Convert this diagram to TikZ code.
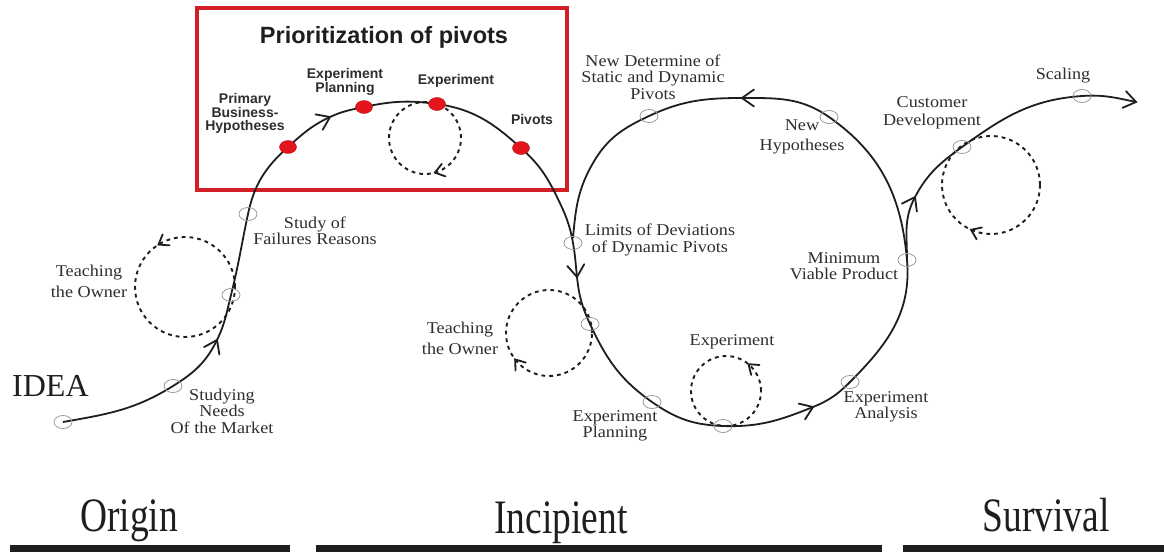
\documentclass[tikz,border=0pt]{standalone}
\usepackage{fontspec}
\usepackage{graphicx}
\setmainfont{Liberation Serif}
\newfontfamily\lab[FakeStretch=1.1]{Liberation Serif}
\newfontfamily\cond[FakeStretch=0.78]{Liberation Serif}
\newfontfamily\boxf{Liberation Sans}
\usetikzlibrary{arrows.meta,calc,shapes.geometric}
\definecolor{boxred}{HTML}{D21F27}
\definecolor{dotred}{HTML}{E3141B}
\definecolor{ink}{HTML}{1E1E1E}
\definecolor{txt}{HTML}{2E2E2E}
\definecolor{ringgray}{HTML}{9A9A9A}
\begin{document}
\begin{tikzpicture}[x=1pt,y=1pt,
  curve/.style={draw=ink,line width=1.8pt},
  loopc/.style={draw=ink,line width=1.9pt,dash pattern=on 3.8pt off 4pt},
  ring/.style={ellipse,draw=ringgray,line width=0.8pt,minimum width=18pt,minimum height=13pt,inner sep=0pt},
  reddot/.style={ellipse,fill=dotred,draw=dotred!80!black,line width=0.4pt,minimum width=17pt,minimum height=13pt,inner sep=0pt},
  lbl/.style={font=\lab\fontsize{16.5}{16.5}\selectfont,align=center,text=txt,inner sep=0pt},
  blbl/.style={font=\boxf\bfseries\fontsize{14}{13}\selectfont,align=center,text=txt,inner sep=0pt},
  stage/.style={font=\cond\fontsize{48}{48}\selectfont,text=ink,inner sep=0pt,anchor=base},
  bar/.style={fill=ink,draw=none},
  bighead/.pic={\draw[ink,line width=1.8pt,line cap=round,line join=miter] (-12,8.5) -- (0,0) -- (-12,-8.5);},
  smallhead/.pic={\draw[ink,line width=1.8pt,line cap=round,line join=miter] (-9,6.5) -- (0,0) -- (-9,-6.5);}
]
\useasboundingbox[fill=white] (0,0) rectangle (1164,-552);

% red box
\node[draw=boxred,line width=3.5pt,minimum width=370pt,minimum height=182pt,inner sep=0pt] (box) at (382,-99) {};
\node[font=\boxf\bfseries\fontsize{23.5}{24}\selectfont,text=ink,inner sep=0pt,anchor=base] (title) at (384,-43) {Prioritization of pivots};

% path points
\coordinate (a0) at (63,-422);
\coordinate (a1) at (173,-386);
\coordinate (a2) at (217,-340);
\coordinate (a3) at (231,-295);
\coordinate (a4) at (248,-214);
\coordinate (a5) at (288,-147);
\coordinate (a6) at (330,-117);
\coordinate (a7) at (364,-107);
\coordinate (a8) at (437,-104);
\coordinate (a9) at (521,-148);
\coordinate (a10) at (557,-197);
\coordinate (a11) at (573,-243);
\coordinate (a12) at (577,-277);
\coordinate (a13) at (590,-324);
\coordinate (a14) at (652,-402);
\coordinate (a15) at (723,-426);
\coordinate (a16) at (813,-407);
\coordinate (a17) at (850,-382);
\coordinate (a18) at (907,-260);
\coordinate (a20) at (829,-117);
\coordinate (a21) at (742,-98);
\coordinate (a22) at (649,-116);
\coordinate (a23) at (593,-163);
\coordinate (a24) at (573,-238);
\coordinate (b1) at (915,-197);
\coordinate (b2) at (962,-147);
\coordinate (b3) at (1082,-96);
\coordinate (b4) at (1136,-102);

% main curve
\draw[curve] (a0) to[out=10,in=212] (a1) to[out=32,in=244] (a2) to[out=64,in=256] (a3)
  to[out=76,in=258] (a4) to[out=78,in=222] (a5) to[out=42,in=205] (a6) to[out=25,in=192] (a7)
  to[out=12,in=172] (a8) to[out=-8,in=138] (a9) to[out=-42,in=116] (a10) to[out=-64,in=100] (a11)
  to[out=-80,in=96] (a12) to[out=-84,in=115] (a13) to[out=-65,in=145] (a14) to[out=-35,in=178] (a15)
  to[out=-2,in=202] (a16) to[out=22,in=225] (a17) to[out=45,in=275] (a18) to[out=95,in=325] (a20)
  to[out=145,in=0] (a21) to[out=180,in=25] (a22) to[out=205,in=60] (a23)
  to[out=240,in=85] (a24);
\draw[curve] (a18) to[out=90,in=242] (b1) to[out=62,in=216] (b2)
  to[out=36,in=184] (b3) to[out=4,in=168] (b4);

% arrow heads on the curve
\pic[rotate=64] at (a2) {bighead};
\pic[rotate=25] at (a6) {bighead};
\pic[rotate=-84] at (a12) {bighead};
\pic[rotate=22] at (a16) {bighead};
\pic[rotate=180] at (a21) {bighead};
\pic[rotate=62] at (b1) {bighead};
\pic[rotate=-12] at (b4) {bighead};

% dashed loops
\coordinate (c1) at (185,-287);
\coordinate (c2) at (425,-138);
\coordinate (c3) at (549,-333);
\coordinate (c4) at (726,-391);
\coordinate (c5) at (991,-185);
\draw[loopc] (c1) circle[radius=50];
\draw[loopc] (c2) circle[radius=36];
\draw[loopc] (c3) circle[radius=43];
\draw[loopc] (c4) circle[radius=35];
\draw[loopc] (c5) circle[radius=49];
\pic[rotate=212] at ($(c1)+(122:50)$) {smallhead};
\pic[rotate=196] at ($(c2)+(286:36)$) {smallhead};
\pic[rotate=128] at ($(c3)+(218:43)$) {smallhead};
\pic[rotate=140] at ($(c4)+(50:35)$) {smallhead};
\pic[rotate=156] at ($(c5)+(246:49)$) {smallhead};

% gray rings
\node[ring] (r0) at (a0) {};
\node[ring] (r1) at (a1) {};
\node[ring] (r3) at (a3) {};
\node[ring] (r4) at (a4) {};
\node[ring] (r11) at (a11) {};
\node[ring] (r13) at (a13) {};
\node[ring] (r14) at (a14) {};
\node[ring] (r15) at (a15) {};
\node[ring] (r17) at (a17) {};
\node[ring] (r18) at (a18) {};
\node[ring] (r20) at (a20) {};
\node[ring] (r22) at (a22) {};
\node[ring] (rb2) at (b2) {};
\node[ring] (rb3) at (b3) {};

% red dots
\node[reddot] (d1) at (a5) {};
\node[reddot] (d2) at (a7) {};
\node[reddot] (d3) at (a8) {};
\node[reddot] (d4) at (a9) {};

% labels
\node[font=\fontsize{32}{32}\selectfont,text=ink,inner sep=0pt,anchor=base west] (idea) at (12,-396) {IDEA};
\node[lbl] (l1) at (222,-411) {Studying\\Needs\\Of the Market};
\node[lbl] (l2) at (315,-231) {Study of\\Failures Reasons};
\node[lbl,font=\lab\fontsize{16.5}{21}\selectfont] (l3) at (89,-281) {Teaching\\the Owner};
\node[blbl] (l4) at (245,-113) {Primary\\Business-\\Hypotheses};
\node[blbl] (l5) at (345,-82) {Experiment\\Planning};
\node[blbl] (l6) at (456,-81) {Experiment};
\node[blbl] (l7) at (532,-119) {Pivots};
\node[lbl] (l8) at (653,-77) {New Determine of\\Static and Dynamic\\Pivots};
\node[lbl,font=\lab\fontsize{16.5}{20}\selectfont] (l9) at (802,-137) {New\\Hypotheses};
\node[lbl] (l10) at (660,-240) {Limits of Deviations\\of Dynamic Pivots};
\node[lbl,font=\lab\fontsize{16.5}{21}\selectfont] (l11) at (460,-338) {Teaching\\the Owner};
\node[lbl] (l12) at (732,-342) {Experiment};
\node[lbl] (l13) at (615,-426) {Experiment\\Planning};
\node[lbl] (l14) at (844,-266) {Minimum\\Viable Product};
\node[lbl] (l15) at (886,-407) {Experiment\\Analysis};
\node[lbl,font=\lab\fontsize{16.5}{18}\selectfont] (l16) at (932,-113) {Customer\\Development};
\node[lbl] (l17) at (1063,-76) {Scaling};

% stages
\node[stage] (s1) at (129,-531) {Origin};
\node[stage] (s2) at (561,-533) {Incipient};
\node[stage] (s3) at (1046,-531) {Survival};
\fill[bar] (10,-545) rectangle (290,-552);
\fill[bar] (316,-545) rectangle (882,-552);
\fill[bar] (903,-545) rectangle (1164,-552);
\end{tikzpicture}
\end{document}
